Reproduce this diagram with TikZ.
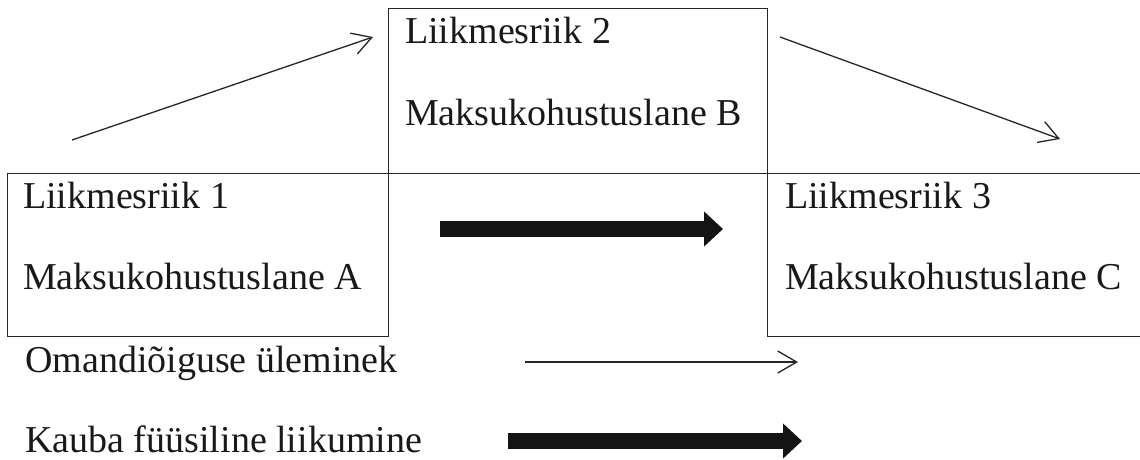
\documentclass[tikz,border=0pt]{standalone}
\usepackage{fontspec}
\setmainfont{Liberation Serif}
\usetikzlibrary{arrows.meta}
\tikzset{
  box/.style={draw=black!85, line width=1.3pt, rectangle, inner sep=0pt, anchor=north west},
  lbl/.style={inner sep=0pt, anchor=base west, font=\fontsize{38}{46}\selectfont, text=black!90},
  thin/.style={draw=black!85, line width=1.3pt, -{Straight Barb[length=19pt,width=22pt,line width=1.3pt]}},
  fat/.style={draw=black!92, line width=16pt, line cap=butt, -{Triangle[length=19pt,width=34pt]}}
}
\begin{document}
\begin{tikzpicture}[x=1pt,y=-1pt]
\useasboundingbox (0,0) rectangle (1140,459);
\clip (0,0) rectangle (1140,459);
% boxes
\node[box, minimum width=381pt, minimum height=163pt] (b1) at (7,173) {};
\node[box, minimum width=379pt, minimum height=165pt] (b2) at (388,8) {};
\node[box, minimum width=420pt, minimum height=163pt] (b3) at (767,173) {};
% box texts
\node[lbl] (t1a) at (23,208) {Liikmesriik 1};
\node[lbl] (t1b) at (23,289) {Maksukohustuslane A};
\node[lbl] (t2a) at (405,43) {Liikmesriik 2};
\node[lbl] (t2b) at (405,125) {Maksukohustuslane B};
\node[lbl] (t3a) at (785,208) {Liikmesriik 3};
\node[lbl] (t3b) at (785,289) {Maksukohustuslane C};
% legend texts
\node[lbl] (l1) at (25,372) {Omandiõiguse üleminek};
\node[lbl] (l2) at (25,452) {Kauba füüsiline liikumine};
% arrow end points
\coordinate (a1s) at (72,140);
\coordinate (a1e) at (373,37);
\coordinate (a2s) at (780,37);
\coordinate (a2e) at (1060,139);
\coordinate (ms) at (440,229);
\coordinate (me) at (723,229);
\coordinate (ls1) at (525,362);
\coordinate (le1) at (798,362);
\coordinate (ls2) at (508,441);
\coordinate (le2) at (802,441);
% arrows
\draw[thin] (a1s) -- (a1e);
\draw[thin] (a2s) -- (a2e);
\draw[fat] (ms) -- (me);
\draw[thin] (ls1) -- (le1);
\draw[fat] (ls2) -- (le2);
\end{tikzpicture}
\end{document}
